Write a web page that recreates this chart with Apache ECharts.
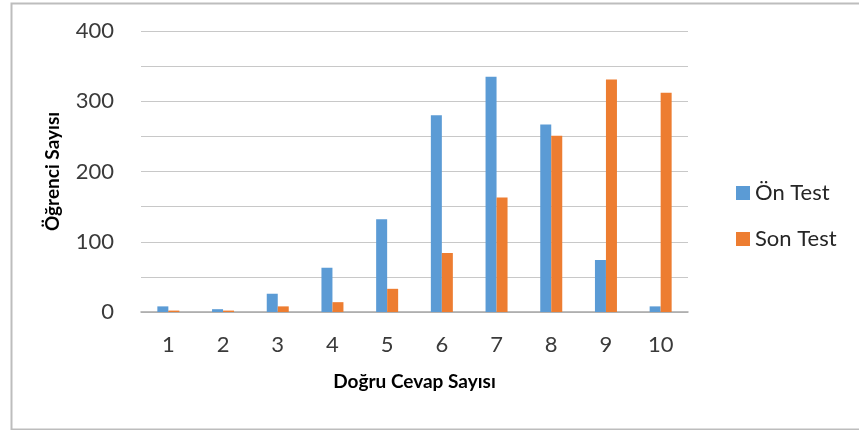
<!DOCTYPE html>
<html>
<head>
    <meta charset="utf-8">
    <title>Ön Test / Son Test</title>
    <style>
        * { margin: 0; padding: 0; box-sizing: border-box; }
        html, body, #chart { width: 859px; height: 430px; overflow: hidden; background: #fff; }
    </style>
</head>
<body>
    <div id="chart"></div>
    <script src="https://cdn.jsdelivr.net/npm/echarts@6/dist/echarts.min.js"></script>
    <script>
        var categories = ['1', '2', '3', '4', '5', '6', '7', '8', '9', '10'];
        var onTest = [8, 4, 26, 63, 132, 280, 335, 267, 74, 8];
        var sonTest = [2, 2, 8, 14, 33, 84, 163, 251, 331, 312];

        var myChart = echarts.init(document.getElementById('chart'));
        var font = 'Lato, "Open Sans", sans-serif';

        var option = {
            animation: false,
            graphic: [{
                type: 'rect',
                left: 9, top: 1,
                shape: { width: 852, height: 426 },
                style: { fill: 'none', stroke: '#bdbdbd', lineWidth: 2 }
            }],
            grid: { left: 141, right: 171, top: 31, bottom: 118 },
            legend: {
                orient: 'vertical',
                left: 731, top: 177,
                itemGap: 24,
                itemWidth: 14, itemHeight: 14,
                icon: 'rect',
                textStyle: { fontFamily: font, fontSize: 22, color: '#262626', padding: [0, 0, 0, 0] },
                data: ['Ön Test', 'Son Test']
            },
            xAxis: {
                type: 'category',
                data: categories,
                name: 'Doğru Cevap Sayısı',
                nameLocation: 'middle',
                nameGap: 60,
                nameTextStyle: { fontFamily: font, fontSize: 19, fontWeight: 'bold', color: '#000' },
                axisTick: { show: false },
                axisLine: { lineStyle: { color: '#a6a6a6', width: 1.5 } },
                axisLabel: { fontFamily: font, fontSize: 22, color: '#3a3a3a', margin: 22 }
            },
            yAxis: {
                type: 'value',
                min: 0, max: 400, interval: 50,
                name: 'Öğrenci Sayısı',
                nameLocation: 'middle',
                nameGap: 79,
                nameTextStyle: { fontFamily: font, fontSize: 19, fontWeight: 'bold', color: '#000' },
                axisLine: { show: false },
                axisTick: { show: false },
                axisLabel: {
                    fontFamily: font, fontSize: 22, color: '#3a3a3a', margin: 27,
                    formatter: function (v) { return v % 100 === 0 ? v : ''; }
                },
                splitLine: { lineStyle: { color: '#c8c8c8', width: 1.2 } }
            },
            series: [
                {
                    name: 'Ön Test', type: 'bar', data: onTest,
                    barWidth: 11, barGap: '0%',
                    itemStyle: { color: '#5b9bd5' }
                },
                {
                    name: 'Son Test', type: 'bar', data: sonTest,
                    barWidth: 11, barGap: '0%',
                    itemStyle: { color: '#ed7d31' }
                }
            ]
        };

        myChart.setOption(option);
    </script>
</body>
</html>
